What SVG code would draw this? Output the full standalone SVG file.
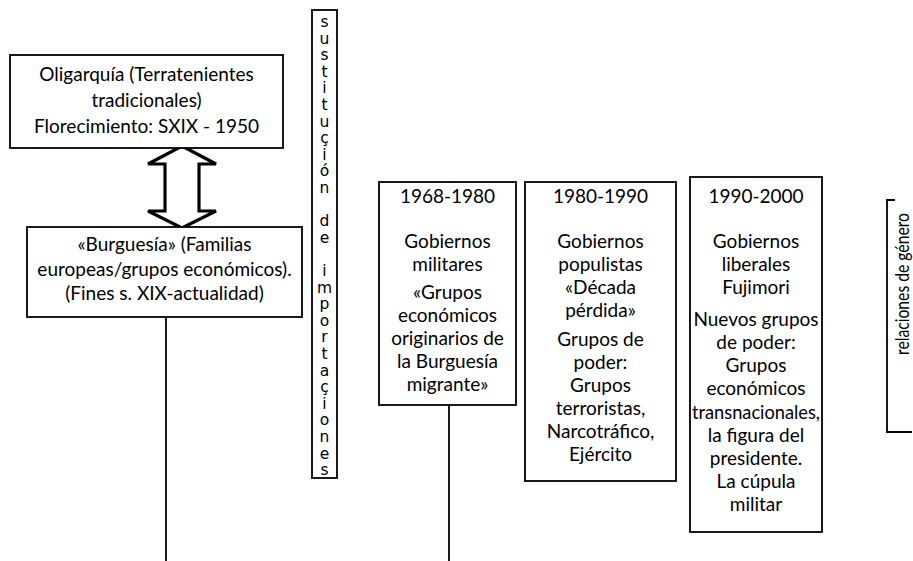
<svg xmlns="http://www.w3.org/2000/svg" width="913" height="561" viewBox="0 0 913 561">
<style>
.box{fill:#fff;stroke:#000;stroke-width:1.8}
.t{font-family:Lato,"Open Sans","Liberation Sans",sans-serif;font-size:19px;fill:#000;text-anchor:middle}
.v{font-family:"DejaVu Sans","Liberation Sans",sans-serif;font-size:15.5px;fill:#000;text-anchor:middle}
.ln{stroke:#000;stroke-width:1.8;fill:none}
</style>
<rect width="913" height="561" fill="#fff"/>
<g id="connectors">
<polygon points="182,146 216,164 199,164 199,211 216,211 182,228 148,211 165,211 165,164 148,164" fill="#fff" stroke="#000" stroke-width="3.2" stroke-linejoin="miter"/>
<line class="ln" x1="166" y1="317" x2="166" y2="561"/>
<line class="ln" x1="449" y1="405" x2="449" y2="561"/>
</g>
<g id="oligarquia">
<rect class="box" x="10" y="55" width="273" height="93"/>
<text class="t" x="146.5" y="81">Oligarquía (Terratenientes</text>
<text class="t" x="146.5" y="107">tradicionales)</text>
<text class="t" x="146.5" y="133">Florecimiento: SXIX - 1950</text>
</g>
<g id="burguesia">
<rect class="box" x="27" y="227" width="275" height="90"/>
<text class="t" x="164.5" y="251">«Burguesía» (Familias</text>
<text class="t" x="164.5" y="276">europeas/grupos económicos).</text>
<text class="t" x="164.5" y="300">(Fines s. XIX-actualidad)</text>
</g>
<g id="sustitucion">
<rect class="box" x="312" y="10" width="25" height="468"/>
<text class="v" x="324.5" y="27">s</text>
<text class="v" x="324.5" y="43.6">u</text>
<text class="v" x="324.5" y="60.2">s</text>
<text class="v" x="324.5" y="76.8">t</text>
<text class="v" x="324.5" y="93.4">i</text>
<text class="v" x="324.5" y="110">t</text>
<text class="v" x="324.5" y="126.6">u</text>
<text class="v" x="324.5" y="143.2">ç</text>
<text class="v" x="324.5" y="159.8">i</text>
<text class="v" x="324.5" y="176.4">ó</text>
<text class="v" x="324.5" y="193">n</text>
<text class="v" x="324.5" y="226.2">d</text>
<text class="v" x="324.5" y="242.8">e</text>
<text class="v" x="324.5" y="276">i</text>
<text class="v" x="324.5" y="292.6">m</text>
<text class="v" x="324.5" y="309.2">p</text>
<text class="v" x="324.5" y="325.8">o</text>
<text class="v" x="324.5" y="342.4">r</text>
<text class="v" x="324.5" y="359">t</text>
<text class="v" x="324.5" y="375.6">a</text>
<text class="v" x="324.5" y="392.2">ç</text>
<text class="v" x="324.5" y="408.8">i</text>
<text class="v" x="324.5" y="425.4">o</text>
<text class="v" x="324.5" y="442">n</text>
<text class="v" x="324.5" y="458.6">e</text>
<text class="v" x="324.5" y="475.2">s</text>
</g>
<g id="p1968">
<rect class="box" x="379" y="182" width="137" height="223"/>
<text class="t" x="447.5" y="203">1968-1980</text>
<text class="t" x="447.5" y="248">Gobiernos</text>
<text class="t" x="447.5" y="271">militares</text>
<text class="t" x="447.5" y="299">«Grupos</text>
<text class="t" x="447.5" y="322">económicos</text>
<text class="t" x="447.5" y="345">originarios de</text>
<text class="t" x="447.5" y="368">la Burguesía</text>
<text class="t" x="447.5" y="391">migrante»</text>
</g>
<g id="p1980">
<rect class="box" x="525" y="182" width="151" height="299"/>
<text class="t" x="600.5" y="203">1980-1990</text>
<text class="t" x="600.5" y="248">Gobiernos</text>
<text class="t" x="600.5" y="271">populistas</text>
<text class="t" x="600.5" y="294">«Década</text>
<text class="t" x="600.5" y="317">pérdida»</text>
<text class="t" x="600.5" y="346">Grupos de</text>
<text class="t" x="600.5" y="369">poder:</text>
<text class="t" x="600.5" y="392">Grupos</text>
<text class="t" x="600.5" y="415">terroristas,</text>
<text class="t" x="600.5" y="438">Narcotráfico,</text>
<text class="t" x="600.5" y="461">Ejército</text>
</g>
<g id="p1990">
<rect class="box" x="690" y="177" width="132" height="355"/>
<text class="t" x="756" y="203">1990-2000</text>
<text class="t" x="756" y="248">Gobiernos</text>
<text class="t" x="756" y="271">liberales</text>
<text class="t" x="756" y="294">Fujimori</text>
<text class="t" x="756" y="326">Nuevos grupos</text>
<text class="t" x="756" y="349">de poder:</text>
<text class="t" x="756" y="372">Grupos</text>
<text class="t" x="756" y="395">económicos</text>
<text class="t" x="756" y="419" textLength="128" lengthAdjust="spacingAndGlyphs">transnacionales,</text>
<text class="t" x="756" y="442">la figura del</text>
<text class="t" x="756" y="465">presidente.</text>
<text class="t" x="756" y="488">La cúpula</text>
<text class="t" x="756" y="511">militar</text>
</g>
<g id="genero">
<polyline class="ln" stroke-width="1.4" points="895,200 887,200 887,432 912,432"/>
<text class="t" font-size="15" textLength="142" lengthAdjust="spacingAndGlyphs" transform="translate(909,284) rotate(-90)">relaciones de género</text>
</g>
</svg>
